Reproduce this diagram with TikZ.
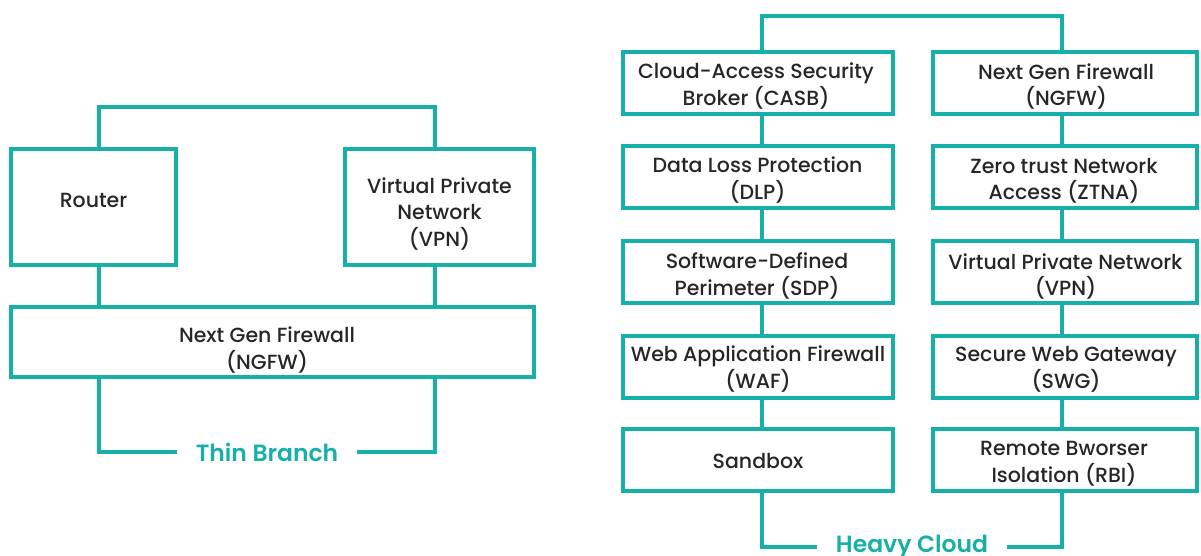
\documentclass[tikz,border=0pt]{standalone}
\usepackage{fontspec}
\setmainfont{Poppins}[UprightFont={* Medium}, BoldFont={* SemiBold}]
\definecolor{brandteal}{RGB}{23,176,168}
\definecolor{ink}{RGB}{38,38,38}
\begin{document}
\begin{tikzpicture}[x=1pt,y=-1pt,
  box/.style={draw=brandteal, line width=4pt, rectangle, inner sep=0pt},
  txt/.style={text=ink, align=center, inner sep=0pt, font=\fontsize{20.5}{26.5}\selectfont},
  wire/.style={draw=brandteal, line width=4pt, line join=miter},
  tag/.style={text=brandteal, inner xsep=19pt, inner ysep=0pt, font=\fontsize{23.5}{28}\selectfont\bfseries}]
\useasboundingbox (0,0) rectangle (1201,556);

% ---------- Thin Branch ----------
\node[box, minimum width=165pt, minimum height=116.3pt] (router) at (93.5,207.2) {};
\node[box, minimum width=189.3pt, minimum height=116.3pt] (vpn) at (439.35,207.2) {};
\node[box, minimum width=523pt, minimum height=70pt] (ngfw) at (272.5,342) {};

\node[txt] (routert) at (93.5,200) {Router};
\node[txt] (vpnt) at (439.5,214) {Virtual Private\\Network\\(VPN)};
\node[txt] (ngfwt) at (267,350) {Next Gen Firewall\\(NGFW)};

\node[tag] (thin) at (267,452) {Thin Branch};

\coordinate (tl) at (98.7,106.7);
\coordinate (tr) at (435.3,106.7);
\draw[wire] (router.north -| tl) -- (tl) -- (tr) -- (vpn.north -| tr);
\draw[wire] (router.south -| tl) -- (ngfw.north -| tl);
\draw[wire] (vpn.south -| tr) -- (ngfw.north -| tr);
\draw[wire] (ngfw.south -| tl) |- (thin.west);
\draw[wire] (ngfw.south -| tr) |- (thin.east);

% ---------- Heavy Cloud ----------
\tikzset{lcol/.style={box, minimum width=269.8pt, minimum height=62pt},
         rcol/.style={box, minimum width=264.3pt, minimum height=62pt}}
\node[lcol] (casb) at (757.6,83.2) {};
\node[lcol] (dlp)  at (757.6,177.2) {};
\node[lcol] (sdp)  at (757.6,271.5) {};
\node[lcol] (waf)  at (757.6,366.5) {};
\node[lcol] (sbox) at (757.6,460.3) {};
\node[rcol] (ngfwr) at (1064.85,83.2) {};
\node[rcol] (ztna)  at (1064.85,177.2) {};
\node[rcol] (vpnr)  at (1064.85,271.5) {};
\node[rcol] (swg)   at (1064.85,366.5) {};
\node[rcol] (rbi)   at (1064.85,460.3) {};

\node[txt] (casbt) at (756,86) {Cloud-Access Security\\Broker (CASB)};
\node[txt] (dlpt)  at (757.5,180) {Data Loss Protection\\(DLP)};
\node[txt] (sdpt)  at (757,276) {Software-Defined\\Perimeter (SDP)};
\node[txt] (waft)  at (758,369) {Web Application Firewall\\(WAF)};
\node[txt] (sboxt) at (758,461) {Sandbox};
\node[txt] (ngfwrt) at (1066,86.5) {Next Gen Firewall\\(NGFW)};
\node[txt] (ztnat)  at (1064,181) {Zero trust Network\\Access (ZTNA)};
\node[txt] (vpnrt)  at (1065.5,276.5) {Virtual Private Network\\(VPN)};
\node[txt] (swgt)   at (1066,369.5) {Secure Web Gateway\\(SWG)};
\node[txt] (rbit)   at (1064,464) {Remote Bworser\\Isolation (RBI)};

\node[tag] (heavy) at (912,547) {Heavy Cloud};

\coordinate (hl) at (762,16);
\coordinate (hr) at (1062,16);
\draw[wire] (casb.north -| hl) -- (hl) -- (hr) -- (ngfwr.north -| hr);
\draw[wire] (casb.south -| hl) -- (dlp.north -| hl);
\draw[wire] (dlp.south -| hl) -- (sdp.north -| hl);
\draw[wire] (sdp.south -| hl) -- (waf.north -| hl);
\draw[wire] (waf.south -| hl) -- (sbox.north -| hl);
\draw[wire] (ngfwr.south -| hr) -- (ztna.north -| hr);
\draw[wire] (ztna.south -| hr) -- (vpnr.north -| hr);
\draw[wire] (vpnr.south -| hr) -- (swg.north -| hr);
\draw[wire] (swg.south -| hr) -- (rbi.north -| hr);
\draw[wire] (sbox.south -| hl) |- (heavy.west);
\draw[wire] (rbi.south -| hr) |- (heavy.east);
\end{tikzpicture}
\end{document}
